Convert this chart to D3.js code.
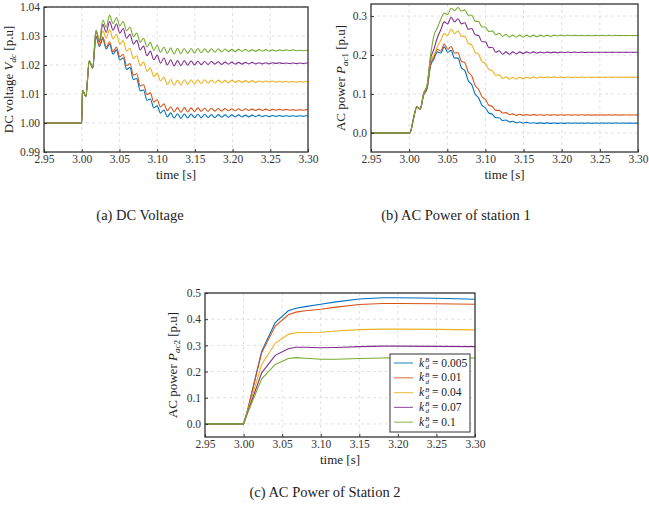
<!DOCTYPE html>
<html>
<head>
<meta charset="utf-8">
<title>DC voltage and AC power</title>
<script src="https://cdn.jsdelivr.net/npm/d3@7"></script>
<style>
  body { margin: 0; background: #fff; }
  svg text { font-family: "Liberation Serif", "DejaVu Serif", serif; fill: #222; }
</style>
</head>
<body>
<svg id="fig" width="649" height="518"></svg>
<script>
// series labels and colours (MATLAB default order)
const kd = ["0.005", "0.01", "0.04", "0.07", "0.1"];
const colors = ["#0072BD", "#D95319", "#EDB120", "#7E2F8E", "#77AC30"];

const xTicks = [2.95, 3.00, 3.05, 3.10, 3.15, 3.20, 3.25, 3.30];

// time samples for (a) and (b)
const T = [2.95, 3.0,
  3.0010, 3.0055, 3.0100, 3.0145, 3.0190, 3.0235, 3.0280, 3.0325, 3.0370, 3.0415,
  3.0460, 3.0505, 3.0550, 3.0595, 3.0640, 3.0685, 3.0730, 3.0775, 3.0820, 3.0865,
  3.0910, 3.0955, 3.1000, 3.1045, 3.1090, 3.1135, 3.1180, 3.1225, 3.1270, 3.1315,
  3.1360, 3.1405, 3.1450, 3.1495, 3.1540, 3.1585, 3.1630, 3.1675, 3.1720, 3.1765,
  3.1810, 3.1855, 3.1900, 3.1945, 3.1990, 3.2035, 3.2080, 3.2125, 3.2170, 3.2215,
  3.2260, 3.2305, 3.2350, 3.2395, 3.2440, 3.2485, 3.2530, 3.2575, 3.2620, 3.2665,
  3.2710, 3.2755, 3.2800, 3.2845, 3.2890, 3.2935, 3.2980,
  3.30];

// (a) DC voltage
const vdc005 = [1.0, 1.0,
  1.0112, 1.0092, 1.0212, 1.0189, 1.0298, 1.0264, 1.0290, 1.0255, 1.0272, 1.0237,
  1.0252, 1.0217, 1.0225, 1.0185, 1.0191, 1.0150, 1.0153, 1.0111, 1.0114, 1.0078,
  1.0083, 1.0052, 1.0059, 1.0034, 1.0045, 1.0021, 1.0035, 1.0017, 1.0032, 1.0016,
  1.0031, 1.0017, 1.0031, 1.0018, 1.0030, 1.0018, 1.0030, 1.0019, 1.0029, 1.0019,
  1.0029, 1.0020, 1.0028, 1.0020, 1.0028, 1.0021, 1.0028, 1.0021, 1.0027, 1.0021,
  1.0027, 1.0022, 1.0027, 1.0022, 1.0026, 1.0022, 1.0026, 1.0023, 1.0026, 1.0023,
  1.0025, 1.0023, 1.0025, 1.0023, 1.0025, 1.0023, 1.0025,
  1.0024];
const vdc01 = [1.0, 1.0,
  1.0112, 1.0092, 1.0212, 1.0189, 1.0300, 1.0268, 1.0296, 1.0262, 1.0280, 1.0245,
  1.0262, 1.0228, 1.0236, 1.0198, 1.0205, 1.0165, 1.0170, 1.0128, 1.0132, 1.0098,
  1.0104, 1.0072, 1.0080, 1.0055, 1.0066, 1.0042, 1.0056, 1.0038, 1.0053, 1.0037,
  1.0053, 1.0038, 1.0052, 1.0039, 1.0052, 1.0040, 1.0051, 1.0040, 1.0051, 1.0041,
  1.0050, 1.0041, 1.0050, 1.0042, 1.0049, 1.0042, 1.0049, 1.0042, 1.0049, 1.0043,
  1.0048, 1.0043, 1.0048, 1.0043, 1.0048, 1.0043, 1.0047, 1.0044, 1.0047, 1.0044,
  1.0047, 1.0044, 1.0046, 1.0044, 1.0046, 1.0044, 1.0046,
  1.0045];
const vdc04 = [1.0, 1.0,
  1.0112, 1.0092, 1.0213, 1.0190, 1.0312, 1.0275, 1.0318, 1.0292, 1.0322, 1.0290,
  1.0306, 1.0272, 1.0284, 1.0248, 1.0258, 1.0222, 1.0232, 1.0198, 1.0210, 1.0178,
  1.0190, 1.0160, 1.0172, 1.0145, 1.0158, 1.0133, 1.0150, 1.0130, 1.0148, 1.0131,
  1.0149, 1.0133, 1.0149, 1.0134, 1.0149, 1.0136, 1.0149, 1.0137, 1.0148, 1.0138,
  1.0148, 1.0139, 1.0147, 1.0139, 1.0147, 1.0140, 1.0146, 1.0140, 1.0146, 1.0140,
  1.0146, 1.0140, 1.0145, 1.0141, 1.0145, 1.0141, 1.0145, 1.0141, 1.0144, 1.0141,
  1.0144, 1.0141, 1.0144, 1.0141, 1.0143, 1.0141, 1.0143,
  1.0142];
const vdc07 = [1.0, 1.0,
  1.0112, 1.0092, 1.0214, 1.0191, 1.0318, 1.0280, 1.0340, 1.0312, 1.0350, 1.0320,
  1.0342, 1.0310, 1.0326, 1.0292, 1.0306, 1.0272, 1.0285, 1.0252, 1.0265, 1.0232,
  1.0248, 1.0218, 1.0234, 1.0206, 1.0224, 1.0200, 1.0218, 1.0197, 1.0215, 1.0198,
  1.0215, 1.0199, 1.0214, 1.0200, 1.0213, 1.0201, 1.0212, 1.0202, 1.0212, 1.0203,
  1.0211, 1.0202, 1.0210, 1.0203, 1.0210, 1.0203, 1.0209, 1.0203, 1.0209, 1.0204,
  1.0209, 1.0204, 1.0208, 1.0204, 1.0208, 1.0204, 1.0208, 1.0205, 1.0208, 1.0205,
  1.0207, 1.0205, 1.0207, 1.0205, 1.0207, 1.0205, 1.0207,
  1.0206];
const vdc1 = [1.0, 1.0,
  1.0112, 1.0092, 1.0215, 1.0192, 1.0320, 1.0285, 1.0355, 1.0330, 1.0372, 1.0342,
  1.0364, 1.0335, 1.0350, 1.0318, 1.0330, 1.0298, 1.0310, 1.0278, 1.0292, 1.0262,
  1.0278, 1.0250, 1.0268, 1.0243, 1.0262, 1.0240, 1.0259, 1.0238, 1.0258, 1.0239,
  1.0257, 1.0240, 1.0257, 1.0241, 1.0257, 1.0242, 1.0256, 1.0243, 1.0256, 1.0244,
  1.0256, 1.0245, 1.0255, 1.0246, 1.0254, 1.0246, 1.0254, 1.0247, 1.0254, 1.0247,
  1.0253, 1.0247, 1.0253, 1.0248, 1.0253, 1.0248, 1.0252, 1.0248, 1.0252, 1.0249,
  1.0252, 1.0249, 1.0252, 1.0249, 1.0251, 1.0249, 1.0251,
  1.0250];

// (b) AC power of station 1
const pac1_005 = [0, 0,
  0.000, 0.035, 0.066, 0.061, 0.097, 0.114, 0.172, 0.190, 0.208, 0.205,
  0.221, 0.207, 0.212, 0.192, 0.192, 0.167, 0.160, 0.134, 0.124, 0.100,
  0.090, 0.071, 0.064, 0.051, 0.048, 0.039, 0.039, 0.032, 0.033, 0.028,
  0.030, 0.026, 0.028, 0.025, 0.027, 0.025, 0.026, 0.0245, 0.0258, 0.0245,
  0.0257, 0.0246, 0.0256, 0.0246, 0.0256, 0.0246, 0.0255, 0.0247, 0.0255, 0.0247,
  0.0255, 0.0247, 0.0254, 0.0248, 0.0254, 0.0248, 0.0254, 0.0248, 0.0253, 0.0248,
  0.0253, 0.0248, 0.0253, 0.0249, 0.0252, 0.0249, 0.0252,
  0.025];
const pac1_01 = [0, 0,
  0.000, 0.035, 0.066, 0.061, 0.098, 0.115, 0.175, 0.195, 0.215, 0.210,
  0.228, 0.215, 0.222, 0.205, 0.206, 0.184, 0.180, 0.156, 0.147, 0.122,
  0.112, 0.093, 0.086, 0.071, 0.068, 0.058, 0.058, 0.051, 0.052, 0.047,
  0.049, 0.045, 0.048, 0.045, 0.047, 0.045, 0.047, 0.0455, 0.0468, 0.0455,
  0.0467, 0.0456, 0.0466, 0.0456, 0.0466, 0.0456, 0.0465, 0.0457, 0.0465, 0.0457,
  0.0465, 0.0457, 0.0464, 0.0458, 0.0464, 0.0458, 0.0464, 0.0458, 0.0463, 0.0458,
  0.0463, 0.0458, 0.0463, 0.0459, 0.0462, 0.0459, 0.0462,
  0.046];
const pac1_04 = [0, 0,
  0.000, 0.035, 0.067, 0.062, 0.100, 0.120, 0.185, 0.200, 0.222, 0.238,
  0.255, 0.250, 0.266, 0.255, 0.262, 0.248, 0.248, 0.230, 0.226, 0.207,
  0.202, 0.183, 0.178, 0.163, 0.160, 0.148, 0.149, 0.140, 0.144, 0.138,
  0.143, 0.138, 0.143, 0.139, 0.143, 0.140, 0.144, 0.141, 0.144, 0.1415,
  0.1440, 0.1420, 0.1438, 0.1422, 0.1438, 0.1422, 0.1436, 0.1424, 0.1436, 0.1424,
  0.1436, 0.1424, 0.1435, 0.1425, 0.1435, 0.1425, 0.1434, 0.1426, 0.1434, 0.1426,
  0.1434, 0.1426, 0.1433, 0.1427, 0.1433, 0.1427, 0.1433,
  0.143];
const pac1_07 = [0, 0,
  0.000, 0.035, 0.067, 0.062, 0.101, 0.121, 0.190, 0.215, 0.245, 0.265,
  0.285, 0.280, 0.297, 0.285, 0.293, 0.280, 0.283, 0.266, 0.268, 0.252,
  0.250, 0.234, 0.234, 0.219, 0.220, 0.207, 0.211, 0.202, 0.208, 0.202,
  0.208, 0.203, 0.208, 0.204, 0.208, 0.205, 0.208, 0.205, 0.2075, 0.2055,
  0.2075, 0.2060, 0.2075, 0.2060, 0.2075, 0.2065, 0.2075, 0.2065, 0.2075, 0.2065,
  0.2075, 0.2065, 0.2073, 0.2067, 0.2073, 0.2067, 0.2073, 0.2067, 0.2073, 0.2067,
  0.2072, 0.2068, 0.2072, 0.2068, 0.2072, 0.2068, 0.2072,
  0.207];
const pac1_1 = [0, 0,
  0.000, 0.035, 0.067, 0.062, 0.102, 0.122, 0.198, 0.250, 0.270, 0.292,
  0.308, 0.304, 0.320, 0.314, 0.322, 0.313, 0.316, 0.302, 0.302, 0.287,
  0.286, 0.272, 0.272, 0.260, 0.262, 0.252, 0.256, 0.248, 0.253, 0.246,
  0.251, 0.246, 0.251, 0.246, 0.251, 0.247, 0.251, 0.247, 0.251, 0.248,
  0.251, 0.248, 0.251, 0.249, 0.251, 0.249, 0.251, 0.2495, 0.2505, 0.2495,
  0.2505, 0.2495, 0.2505, 0.2495, 0.2505, 0.2495, 0.2505, 0.2495, 0.2505, 0.2495,
  0.2505, 0.2497, 0.2503, 0.2497, 0.2503, 0.2497, 0.2503,
  0.250];

// (c) AC power of station 2
const T2 = [2.95, 3.000, 3.005, 3.0235, 3.041, 3.058, 3.068, 3.08, 3.10, 3.12, 3.15, 3.18, 3.20, 3.25, 3.30];
const pac2_005 = [0, 0, 0.050, 0.278, 0.387, 0.432, 0.442, 0.448, 0.457, 0.466, 0.477, 0.482, 0.482, 0.480, 0.476];
const pac2_01  = [0, 0, 0.050, 0.272, 0.374, 0.417, 0.427, 0.432, 0.438, 0.446, 0.456, 0.460, 0.460, 0.459, 0.457];
const pac2_04  = [0, 0, 0.045, 0.227, 0.308, 0.342, 0.348, 0.349, 0.350, 0.355, 0.360, 0.362, 0.362, 0.361, 0.359];
const pac2_07  = [0, 0, 0.042, 0.195, 0.262, 0.287, 0.293, 0.293, 0.291, 0.292, 0.295, 0.297, 0.297, 0.296, 0.295];
const pac2_1   = [0, 0, 0.040, 0.172, 0.227, 0.250, 0.253, 0.251, 0.247, 0.247, 0.250, 0.252, 0.253, 0.252, 0.252];

const svg = d3.select("#fig");

function drawPanel(p) {
  const x = d3.scaleLinear().domain([2.95, 3.30]).range([p.left, p.right]);
  const y = d3.scaleLinear().domain(p.yDomain).range([p.bottom, p.top]);
  const g = svg.append("g");

  // dashed grid
  g.selectAll(".gx").data(xTicks.slice(1, -1)).join("line")
    .attr("x1", d => x(d)).attr("x2", d => x(d))
    .attr("y1", p.top).attr("y2", p.bottom)
    .attr("stroke", "#d9d9d9").attr("stroke-width", 0.8).attr("stroke-dasharray", "3,3");
  g.selectAll(".gy").data(p.yTicks).join("line")
    .attr("x1", p.left).attr("x2", p.right)
    .attr("y1", d => y(d)).attr("y2", d => y(d))
    .attr("stroke", "#d9d9d9").attr("stroke-width", 0.8).attr("stroke-dasharray", "3,3");

  // clip lines to the plot box
  g.append("clipPath").attr("id", p.id)
    .append("rect").attr("x", p.left).attr("y", p.top)
    .attr("width", p.right - p.left).attr("height", p.bottom - p.top);

  const line = d3.line()
    .x(d => x(d[0])).y(d => y(d[1]))
    .curve(p.curve);
  p.series.forEach((s, i) => {
    g.append("path")
      .datum(p.t.map((t, j) => [t, s[j]]))
      .attr("clip-path", "url(#" + p.id + ")")
      .attr("fill", "none")
      .attr("stroke", colors[i])
      .attr("stroke-width", 1.1)
      .attr("d", line);
  });

  // axes with inward ticks
  const xa = g.append("g").attr("transform", "translate(0," + p.bottom + ")")
    .call(d3.axisBottom(x).tickValues(xTicks).tickFormat(d3.format(".2f")).tickSizeInner(-3).tickSizeOuter(0).tickPadding(3));
  const ya = g.append("g").attr("transform", "translate(" + p.left + ",0)")
    .call(d3.axisLeft(y).tickValues(p.yTicks).tickFormat(d3.format(p.yFormat)).tickSizeInner(-3).tickSizeOuter(0).tickPadding(4));
  [xa, ya].forEach(a => {
    a.select(".domain").remove();
    a.selectAll("line").attr("stroke", "#333");
    a.selectAll("text").style("font-size", "11.5px").style("fill", "#333");
  });

  // frame
  g.append("rect")
    .attr("x", p.left).attr("y", p.top)
    .attr("width", p.right - p.left).attr("height", p.bottom - p.top)
    .attr("fill", "none").attr("stroke", "#333").attr("stroke-width", 1.3);

  // x label
  g.append("text")
    .attr("x", (p.left + p.right) / 2).attr("y", p.bottom + 27)
    .attr("text-anchor", "middle").style("font-size", "13px")
    .text("time [s]");

  // y label
  const yl = g.append("text")
    .attr("transform", "translate(" + p.yLabelX + "," + (p.top + p.bottom) / 2 + ") rotate(-90)")
    .attr("text-anchor", "middle").style("font-size", "13px");
  yl.append("tspan").text(p.yLabel[0]);
  yl.append("tspan").style("font-style", "italic").text(p.yLabel[1]);
  yl.append("tspan").style("font-size", "9px").attr("dy", 3).style("font-style", "italic").text(p.yLabel[2]);
  if (p.yLabel[3]) yl.append("tspan").style("font-size", "9px").text(p.yLabel[3]);
  yl.append("tspan").attr("dy", -3).text(" [p.u]");

  // caption
  svg.append("text")
    .attr("x", p.capX).attr("y", p.capY)
    .attr("text-anchor", "middle").style("font-size", "14.5px")
    .text(p.caption);

  return { x, y };
}

drawPanel({
  id: "clipA", left: 44, right: 308, top: 7, bottom: 152,
  yDomain: [0.99, 1.04], yTicks: [0.99, 1.00, 1.01, 1.02, 1.03, 1.04], yFormat: ".2f",
  t: T, series: [vdc005, vdc01, vdc04, vdc07, vdc1], curve: d3.curveMonotoneX,
  yLabel: ["DC voltage ", "V", "dc", null], yLabelX: 13,
  caption: "(a) DC Voltage", capX: 140, capY: 220
});

drawPanel({
  id: "clipB", left: 371, right: 638, top: 4, bottom: 152,
  yDomain: [-0.049, 0.331], yTicks: [0.0, 0.1, 0.2, 0.3], yFormat: ".1f",
  t: T, series: [pac1_005, pac1_01, pac1_04, pac1_07, pac1_1], curve: d3.curveMonotoneX,
  yLabel: ["AC power  ", "P", "ac", "1"], yLabelX: 345,
  caption: "(b) AC Power of station 1", capX: 456, capY: 220
});

drawPanel({
  id: "clipC", left: 205, right: 475, top: 293, bottom: 437,
  yDomain: [-0.05, 0.5], yTicks: [0.0, 0.1, 0.2, 0.3, 0.4, 0.5], yFormat: ".1f",
  t: T2, series: [pac2_005, pac2_01, pac2_04, pac2_07, pac2_1], curve: d3.curveLinear,
  yLabel: ["AC power  ", "P", "ac", "2"], yLabelX: 177,
  caption: "(c) AC Power of Station 2", capX: 325, capY: 497
});

// legend in panel c: k, superscript B over subscript d, then the value
const lg = svg.append("g");
lg.append("rect")
  .attr("x", 390).attr("y", 354).attr("width", 80).attr("height", 78)
  .attr("fill", "#fff").attr("stroke", "#333").attr("stroke-width", 1);
kd.forEach((k, i) => {
  const yy = 363 + i * 14.8;
  lg.append("line")
    .attr("x1", 394).attr("x2", 413).attr("y1", yy).attr("y2", yy)
    .attr("stroke", colors[i]).attr("stroke-width", 1.2).attr("stroke-opacity", 0.75);
  lg.append("text").attr("x", 419).attr("y", yy + 3.5)
    .style("font-size", "11.5px").style("font-style", "italic").text("k");
  lg.append("text").attr("x", 425).attr("y", yy - 1)
    .style("font-size", "7px").style("font-style", "italic").text("B");
  lg.append("text").attr("x", 425.5).attr("y", yy + 6)
    .style("font-size", "7px").style("font-style", "italic").text("d");
  lg.append("text").attr("x", 432).attr("y", yy + 3.5)
    .style("font-size", "11.5px").text("= " + k);
});
</script>
</body>
</html>
